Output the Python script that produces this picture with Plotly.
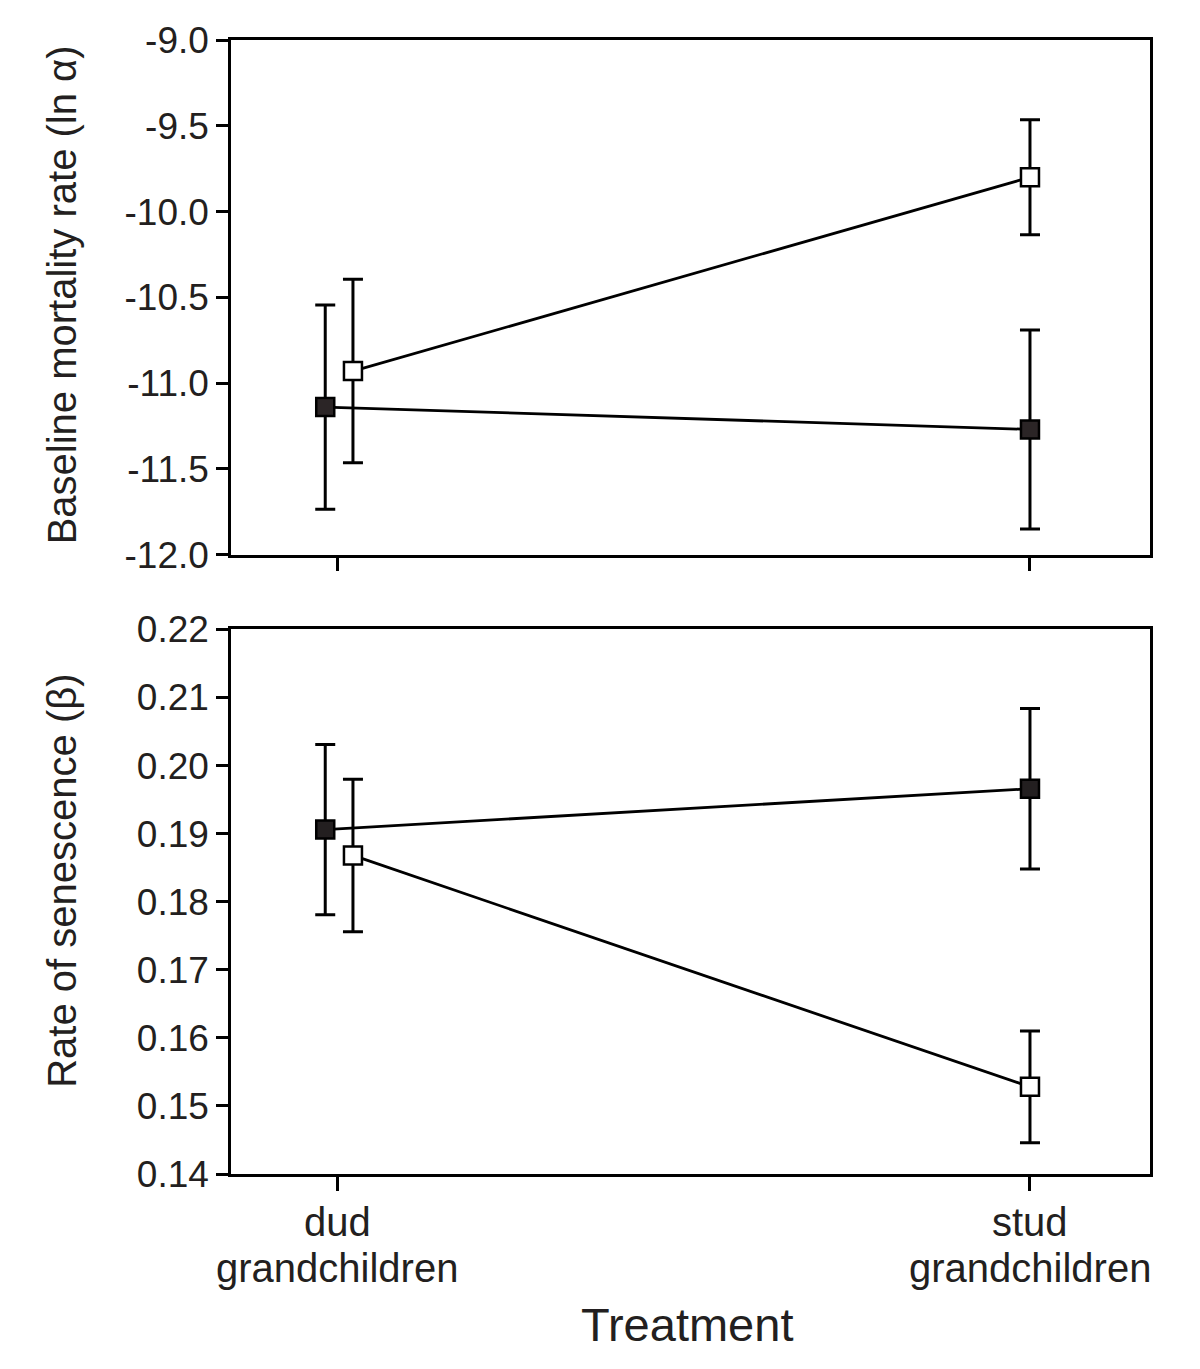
import plotly.graph_objects as go

categories = ["dud<br>grandchildren", "stud<br>grandchildren"]
cat_pos = [0, 1]

# Top panel: baseline mortality rate (ln alpha)
alpha_filled = [-11.14, -11.27]
alpha_filled_err = [0.595, 0.58]
alpha_open = [-10.93, -9.80]
alpha_open_err = [0.535, 0.335]

# Bottom panel: rate of senescence (beta)
beta_filled = [0.1906, 0.1966]
beta_filled_err = [0.0125, 0.0118]
beta_open = [0.1868, 0.1528]
beta_open_err = [0.0112, 0.0082]

alpha_ticks = [-12.0, -11.5, -11.0, -10.5, -10.0, -9.5, -9.0]
beta_ticks = [0.14, 0.15, 0.16, 0.17, 0.18, 0.19, 0.20, 0.21, 0.22]

FONT = "Liberation Sans, Arial, sans-serif"
TXT = "#231f20"
off_filled = [-0.017, 0.0]
off_open = [0.023, 0.0]

fig = go.Figure()

def add_series(y, err, offs, fill, yaxis, xaxis):
    xs = [c + o for c, o in zip(cat_pos, offs)]
    fig.add_trace(go.Scatter(
        x=xs, y=y, xaxis=xaxis, yaxis=yaxis, mode="lines+markers",
        line=dict(color="black", width=2.8),
        marker=dict(symbol="square", size=18, color=fill,
                    line=dict(color="black", width=2.5)),
        error_y=dict(type="data", array=err, visible=True,
                     color="black", thickness=3, width=10),
        showlegend=False, cliponaxis=False))

add_series(alpha_filled, alpha_filled_err, off_filled, "#2b2526", "y", "x")
add_series(alpha_open, alpha_open_err, off_open, "white", "y", "x")
add_series(beta_filled, beta_filled_err, off_filled, "#231f20", "y2", "x2")
add_series(beta_open, beta_open_err, off_open, "white", "y2", "x2")

# page body has an 8px margin; compensate so the plot sits where the reference has it
L, T, PW, PH = 223, 29, 919, 1137
W = 1192
Hh = 1361
H = float(PH)
xcommon = dict(range=[-0.153, 1.1732], showgrid=False, zeroline=False,
               showline=True, linecolor="black", linewidth=2.5, mirror=True,
               ticks="outside", ticklen=14, tickwidth=2.5, tickcolor="black",
               tickvals=cat_pos, showticklabels=False)
ycommon = dict(showgrid=False, zeroline=False, showline=True, linecolor="black",
               linewidth=2.5, mirror=True, ticks="outside", ticklen=12,
               tickwidth=2.5, tickcolor="black",
               tickfont=dict(family=FONT, size=37, color=TXT))

fig.update_layout(
    width=W, height=Hh,
    margin=dict(l=L, r=W - L - PW, t=T, b=Hh - T - PH, pad=0),
    paper_bgcolor="white", plot_bgcolor="white",
    xaxis=dict(**xcommon, domain=[0, 1], anchor="y"),
    yaxis=dict(**ycommon, domain=[(1174 - 553) / H, 1.0], anchor="x",
               range=[-12.0, -9.0], tickvals=alpha_ticks,
               ticktext=[f"{v:.1f}" for v in alpha_ticks]),
    xaxis2=dict(**xcommon, domain=[0, 1], anchor="y2"),
    yaxis2=dict(**ycommon, domain=[0, 546 / H], anchor="x2",
                range=[0.14, 0.22], tickvals=beta_ticks,
                ticktext=[f"{v:.2f}" for v in beta_ticks]),
)

# category labels (two lines each, tight spacing as in the reference)
for c, lab in zip(cat_pos, categories):
    lines = lab.split("<br>")
    for i, ln in enumerate(lines):
        fig.add_annotation(text=ln, xref="x2", yref="paper", x=c,
                           y=-(1222 - 1174 + 46 * i) / H, showarrow=False,
                           xanchor="center", yanchor="middle",
                           font=dict(family=FONT, size=40, color=TXT))

fig.add_annotation(text="Baseline mortality rate (ln α)", xref="paper", yref="paper",
                   x=(62 - 231) / PW, y=((1174 - 293) / H), textangle=-90,
                   showarrow=False, xanchor="center", yanchor="middle",
                   font=dict(family=FONT, size=40, color=TXT))
fig.add_annotation(text="Rate of senescence (β)", xref="paper", yref="paper",
                   x=(62 - 231) / PW, y=((1174 - 880) / H), textangle=-90,
                   showarrow=False, xanchor="center", yanchor="middle",
                   font=dict(family=FONT, size=40, color=TXT))
fig.add_annotation(text="Treatment", xref="paper", yref="paper",
                   x=(687 - 231) / PW, y=-(1325 - 1174) / H, showarrow=False,
                   xanchor="center", yanchor="middle",
                   font=dict(family=FONT, size=47, color=TXT))

fig.write_html("out.html")
